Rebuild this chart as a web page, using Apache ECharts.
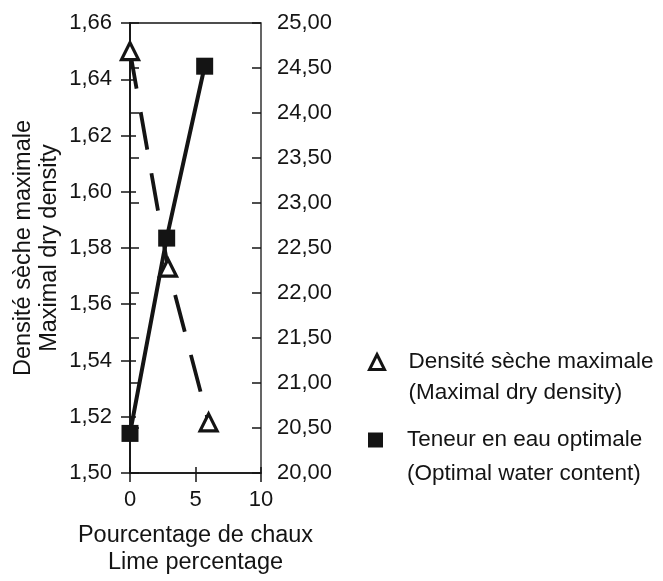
<!DOCTYPE html>
<html>
<head>
<meta charset="utf-8">
<script src="https://cdn.jsdelivr.net/npm/echarts@6/dist/echarts.min.js"></script>
<style>
html,body{margin:0;padding:0;background:#fff;}
#chart{width:663px;height:581px;}
</style>
</head>
<body>
<div id="chart"></div>
<script>
// Data
var densityX = [0, 2.9, 6];
var densityY = [1.650, 1.573, 1.518];
var waterX = [0, 2.8, 5.7];
var waterY = [20.44, 22.61, 24.52];
var densityName = 'Densité sèche maximale';
var densityNameEn = '(Maximal dry density)';
var waterName = 'Teneur en eau optimale';
var waterNameEn = '(Optimal water content)';
var xName = 'Pourcentage de chaux\nLime percentage';
var yName = 'Densité sèche maximale\nMaximal dry density';

var FONT = 'Liberation Sans';
var INK = '#141414';

function pairs(xs, ys){ return xs.map(function(x,i){ return [x, ys[i]]; }); }
function comma(v){ return v.toFixed(2).replace('.', ','); }

var chart = echarts.init(document.getElementById('chart'));
var tickLbl = {fontFamily: FONT, fontSize: 22, color: INK};

chart.setOption({
  animation: false,
  backgroundColor: '#fff',
  grid: {left: 130, right: 402, top: 23, bottom: 99, show: true, borderColor: INK, borderWidth: 1.3, containLabel: false},
  xAxis: [
    {type: 'value', min: 0, max: 10, interval: 5, position: 'bottom',
     axisLine: {lineStyle: {color: INK, width: 1.5}},
     axisTick: {show: true, inside: false, length: 9, lineStyle: {color: INK, width: 1.5}},
     axisLabel: Object.assign({margin: 16}, tickLbl),
     splitLine: {show: false},
     name: xName, nameLocation: 'middle', nameGap: 49,
     nameTextStyle: {fontFamily: FONT, fontSize: 23.5, color: INK, lineHeight: 27}},
    {type: 'value', min: 0, max: 10, interval: 5, position: 'bottom',
     axisLine: {show: false},
     axisTick: {show: true, inside: true, length: 6, lineStyle: {color: INK, width: 1.5}},
     axisLabel: {show: false}, splitLine: {show: false}}
  ],
  yAxis: [
    {type: 'value', min: 1.5, max: 1.66, interval: 0.02, position: 'left',
     axisLine: {show: true, lineStyle: {color: INK, width: 1.5}},
     axisTick: {show: true, inside: false, length: 9, lineStyle: {color: INK, width: 1.5}},
     axisLabel: Object.assign({margin: 18, formatter: comma}, tickLbl),
     splitLine: {show: false},
     name: yName, nameLocation: 'middle', nameGap: 67, nameRotate: 90,
     nameTextStyle: {fontFamily: FONT, fontSize: 23.5, color: INK, lineHeight: 26}},
    {type: 'value', min: 20, max: 25, interval: 0.5, position: 'right',
     axisLine: {show: true, lineStyle: {color: INK, width: 1.5}},
     axisTick: {show: true, inside: false, length: 9, lineStyle: {color: INK, width: 1.5}},
     axisLabel: Object.assign({margin: 16, formatter: comma}, tickLbl),
     splitLine: {show: false}},
    {type: 'value', min: 1.5, max: 1.66, interval: 0.02, position: 'left',
     axisLine: {show: false},
     axisTick: {show: true, inside: true, length: 6, lineStyle: {color: INK, width: 1.5}},
     axisLabel: {show: false}, splitLine: {show: false}},
    {type: 'value', min: 20, max: 25, interval: 0.5, position: 'right',
     axisLine: {show: false},
     axisTick: {show: true, inside: true, length: 9, lineStyle: {color: INK, width: 1.5}},
     axisLabel: {show: false}, splitLine: {show: false}}
  ],
  legend: [
    {orient: 'vertical', left: 368, top: 362 - 46.5, padding: 0, itemWidth: 15, itemHeight: 15,
     data: [{name: densityName, icon: 'triangle', itemStyle: {color: '#fff', borderColor: INK, borderWidth: 3}}],
     formatter: function(){ return '\n' + densityName + '\n' + densityNameEn; },
     textStyle: {fontFamily: FONT, fontSize: 22.5, color: INK, lineHeight: 31, padding: [0, 0, 0, 19]}},
    {orient: 'vertical', left: 368, top: 440 - 51, padding: 0, itemWidth: 15, itemHeight: 15,
     data: [{name: waterName, icon: 'rect', itemStyle: {color: INK}}],
     formatter: function(){ return '\n' + waterName + '\n' + waterNameEn; },
     textStyle: {fontFamily: FONT, fontSize: 22.5, color: INK, lineHeight: 34, padding: [0, 0, 0, 19]}}
  ],
  series: [
    {name: densityName, type: 'line', xAxisIndex: 0, yAxisIndex: 0,
     data: pairs(densityX, densityY),
     symbol: 'triangle', symbolSize: 17, showSymbol: true,
     lineStyle: {color: INK, width: 3.8, type: [38, 24]},
     itemStyle: {color: '#fff', borderColor: INK, borderWidth: 3.2}, z: 3},
    {name: waterName, type: 'line', xAxisIndex: 0, yAxisIndex: 1,
     data: pairs(waterX, waterY),
     symbol: 'rect', symbolSize: 17, showSymbol: true,
     lineStyle: {color: INK, width: 4, type: 'solid'},
     itemStyle: {color: INK, borderWidth: 0}, z: 4}
  ]
});
</script>
</body>
</html>
